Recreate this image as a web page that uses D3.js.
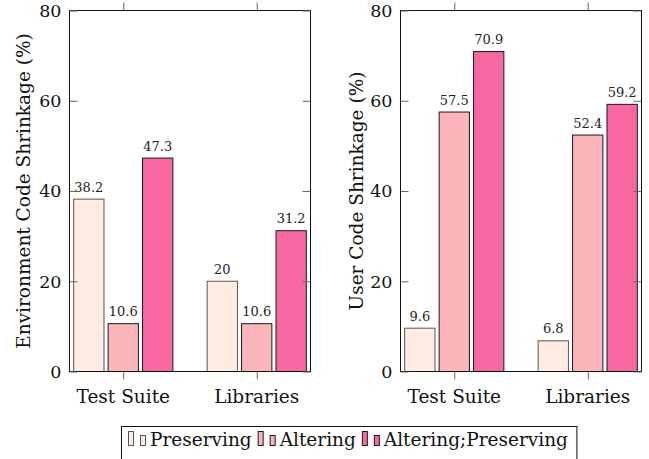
<!DOCTYPE html>
<html>
<head>
<meta charset="utf-8">
<script src="https://cdn.jsdelivr.net/npm/d3@7"></script>
<style>
  html, body { margin: 0; padding: 0; background: #fff; }
  svg { display: block; }
  .word { font-family: "DejaVu Serif", "Liberation Serif", serif; font-size: 18.5px; fill: #111; }
  .num { font-family: "DejaVu Serif", "Liberation Serif", serif; font-size: 17.5px; fill: #111; }
  .val { font-family: "DejaVu Serif", "Liberation Serif", serif; font-size: 13px; fill: #222; }
</style>
</head>
<body>
<svg id="chart" width="649" height="459"></svg>
<script>
// Categories and series
const categories = ["Test Suite", "Libraries"];
const seriesNames = ["Preserving", "Altering", "Altering;Preserving"];
const seriesColors = ["#feebe2", "#fbb4b9", "#f768a1"];
const seriesStrokes = ["#555555", "#1a1a1a", "#1a1a1a"];

// Environment code shrinkage (%) per category
const envPreserving = [38.2, 20];
const envAltering = [10.6, 10.6];
const envAlteringPreserving = [47.3, 31.2];

// User code shrinkage (%) per category
const userPreserving = [9.6, 6.8];
const userAltering = [57.5, 52.4];
const userAlteringPreserving = [70.9, 59.2];

// Axis ticks and titles
const yTicks = [0, 20, 40, 60, 80];
const yDomain = [0, 80];
const panelTitles = ["Environment Code Shrinkage (%)", "User Code Shrinkage (%)"];

const svg = d3.select("#chart");

const y = d3.scaleLinear().domain(yDomain).range([371.5, 10.5]);

function drawPanel(x0, x1, seriesValues, title, titleX) {
  const g = svg.append("g");
  const xCat = d3.scalePoint().domain(categories).range([x0, x1]).padding(0.403);
  const xSer = d3.scaleBand().domain(seriesNames).range([-49.6, 49.6]).paddingInner(0.12);

  // bars
  seriesNames.forEach((s, si) => {
    const vals = seriesValues[si];
    categories.forEach((c, ci) => {
      const v = vals[ci];
      const bx = xCat(c) + xSer(s);
      g.append("rect")
        .attr("x", bx)
        .attr("y", y(v))
        .attr("width", xSer.bandwidth())
        .attr("height", y(0) - y(v))
        .attr("fill", seriesColors[si])
        .attr("stroke", seriesStrokes[si])
        .attr("stroke-width", 1);
      g.append("text")
        .attr("class", "val")
        .attr("x", bx + xSer.bandwidth() / 2)
        .attr("y", y(v) - 7.5)
        .attr("text-anchor", "middle")
        .text(String(v));
    });
  });

  // frame
  g.append("rect")
    .attr("x", x0).attr("y", y(yDomain[1]))
    .attr("width", x1 - x0).attr("height", y(0) - y(yDomain[1]))
    .attr("fill", "none").attr("stroke", "#111").attr("stroke-width", 1);

  // y ticks (inside, on both sides)
  const yAxisL = d3.axisRight(y).tickValues(yTicks).tickSize(8).tickFormat("");
  const yAxisR = d3.axisLeft(y).tickValues(yTicks).tickSize(8).tickFormat("");
  [[yAxisL, x0], [yAxisR, x1]].forEach(([ax, tx]) => {
    const a = g.append("g").attr("transform", `translate(${tx},0)`).call(ax);
    a.select(".domain").remove();
    a.selectAll("line").attr("stroke", "#666");
  });

  // y tick labels
  g.selectAll(null).data(yTicks).join("text")
    .attr("class", "num")
    .attr("x", x0 - 8)
    .attr("y", d => y(d))
    .attr("dy", "0.36em")
    .attr("text-anchor", "end")
    .text(d => d);

  // x ticks (outside, top and bottom)
  const xTop = d3.axisTop(xCat).tickSize(8).tickFormat("");
  const xBot = d3.axisBottom(xCat).tickSize(8).tickFormat("");
  [[xTop, y(yDomain[1])], [xBot, y(0)]].forEach(([ax, ty]) => {
    const a = g.append("g").attr("transform", `translate(0,${ty})`).call(ax);
    a.select(".domain").remove();
    a.selectAll("line").attr("stroke", "#666");
  });

  // category labels
  g.selectAll(null).data(categories).join("text")
    .attr("class", "word")
    .attr("x", d => xCat(d))
    .attr("y", 403)
    .attr("text-anchor", "middle")
    .text(d => d);

  // axis title
  g.append("text")
    .attr("class", "word")
    .attr("transform", `translate(${titleX},${(y(0) + y(yDomain[1])) / 2}) rotate(-90)`)
    .attr("text-anchor", "middle")
    .text(title);
}

drawPanel(69.5, 310.5,
  [envPreserving, envAltering, envAlteringPreserving], panelTitles[0], 30);
drawPanel(400.5, 641.5,
  [userPreserving, userAltering, userAlteringPreserving], panelTitles[1], 362.5);

// legend
const legend = svg.append("g");
const legendBox = legend.append("rect")
  .attr("fill", "#fff").attr("stroke", "#111").attr("stroke-width", 1);
let lx = 128;
seriesNames.forEach((s, si) => {
  legend.append("rect")
    .attr("x", lx + 0.5).attr("y", 431.5).attr("width", 5).attr("height", 14)
    .attr("fill", seriesColors[si]).attr("stroke", seriesStrokes[si]).attr("stroke-width", 1);
  legend.append("rect")
    .attr("x", lx + 12.5).attr("y", 435.5).attr("width", 5).attr("height", 10)
    .attr("fill", seriesColors[si]).attr("stroke", seriesStrokes[si]).attr("stroke-width", 1);
  const t = legend.append("text")
    .attr("class", "word")
    .attr("x", lx + 22)
    .attr("y", 446)
    .text(s);
  lx = lx + 22 + t.node().getComputedTextLength() + 6;
});
legendBox
  .attr("x", 121.5).attr("y", 426.5)
  .attr("width", Math.max(lx + 3, 570.5) - 121.5).attr("height", 40);
</script>
</body>
</html>
